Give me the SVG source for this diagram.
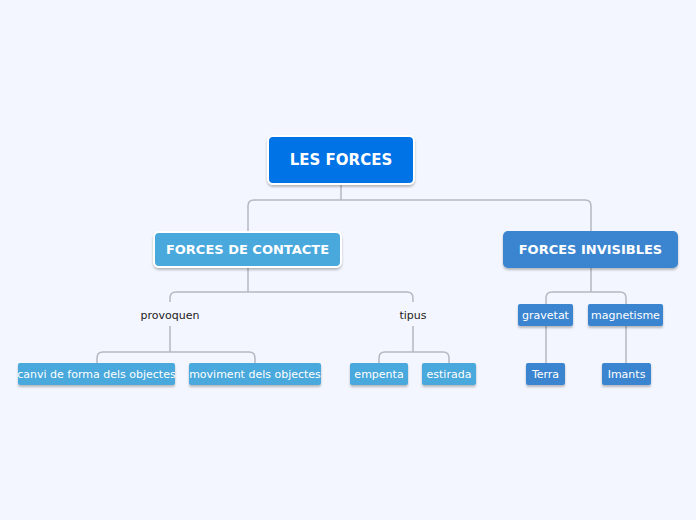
<svg xmlns="http://www.w3.org/2000/svg" width="696" height="520" viewBox="0 0 696 520">
<defs>
<style>
text{font-family:"DejaVu Sans","Liberation Sans",sans-serif;text-anchor:middle;dominant-baseline:central}
.c{fill:none;stroke:#b4b8c0;stroke-width:1.5}
.b{stroke:#fff;stroke-width:2}
.t{fill:#fff;font-size:11px}
.h{fill:#fff;font-size:13px;font-weight:bold}
.l{fill:#222;font-size:11px}
</style>
<filter id="s" x="-10%" y="-20%" width="120%" height="150%"><feDropShadow dx="0" dy="2" stdDeviation="1.2" flood-color="#000" flood-opacity="0.25"/></filter>
</defs>
<rect width="696" height="520" fill="#f3f6fe"/>
<g id="connectors">
<path class="c" d="M341 184V200M248 232V206Q248 200 254 200H585Q591 200 591 206V231"/>
<path class="c" d="M248 267V292M170 302V298Q170 292 176 292H407Q413 292 413 298V302"/>
<path class="c" d="M170 326V352M97 363V358Q97 352 103 352H249Q255 352 255 358V363"/>
<path class="c" d="M413 326V352M379 363V358Q379 352 385 352H443Q449 352 449 358V363"/>
<path class="c" d="M591 268V292M546 304V298Q546 292 552 292H620Q626 292 626 298V304"/>
<path class="c" d="M546 326V363M626 326V363"/>
</g>
<g id="root"><rect class="b" x="268" y="136" width="146" height="48" rx="5" fill="#0073e6" filter="url(#s)"/><text class="h" x="341" y="160" style="font-size:15px">LES FORCES</text></g>
<g id="contacte"><rect class="b" x="154" y="232" width="187" height="35" rx="5" fill="#4aa8dc" filter="url(#s)"/><text class="h" x="247.5" y="249.5">FORCES DE CONTACTE</text></g>
<g id="invisibles"><rect x="503" y="231" width="175" height="37" rx="5" fill="#3a85d0" filter="url(#s)"/><text class="h" x="590.5" y="249.5">FORCES INVISIBLES</text></g>
<g id="provoquen"><text class="l" x="170" y="315">provoquen</text></g>
<g id="tipus"><text class="l" x="413" y="315">tipus</text></g>
<g id="canvi"><rect x="18" y="363" width="157" height="22" rx="2" fill="#4aa8dc" filter="url(#s)"/><text class="t" x="96.5" y="374">canvi de forma dels objectes</text></g>
<g id="moviment"><rect x="189" y="363" width="132" height="22" rx="2" fill="#4aa8dc" filter="url(#s)"/><text class="t" x="255" y="374">moviment dels objectes</text></g>
<g id="empenta"><rect x="350" y="363" width="58" height="22" rx="2" fill="#4aa8dc" filter="url(#s)"/><text class="t" x="379" y="374">empenta</text></g>
<g id="estirada"><rect x="422" y="363" width="54" height="22" rx="2" fill="#4aa8dc" filter="url(#s)"/><text class="t" x="449" y="374">estirada</text></g>
<g id="gravetat"><rect x="518" y="304" width="55" height="22" rx="2" fill="#3a85d0" filter="url(#s)"/><text class="t" x="545.5" y="315">gravetat</text></g>
<g id="magnetisme"><rect x="588" y="304" width="75" height="22" rx="2" fill="#3a85d0" filter="url(#s)"/><text class="t" x="625.5" y="315">magnetisme</text></g>
<g id="terra"><rect x="526" y="363" width="39" height="22" rx="2" fill="#3a85d0" filter="url(#s)"/><text class="t" x="545.5" y="374">Terra</text></g>
<g id="imants"><rect x="602" y="363" width="49" height="22" rx="2" fill="#3a85d0" filter="url(#s)"/><text class="t" x="626.5" y="374">Imants</text></g>
</svg>
